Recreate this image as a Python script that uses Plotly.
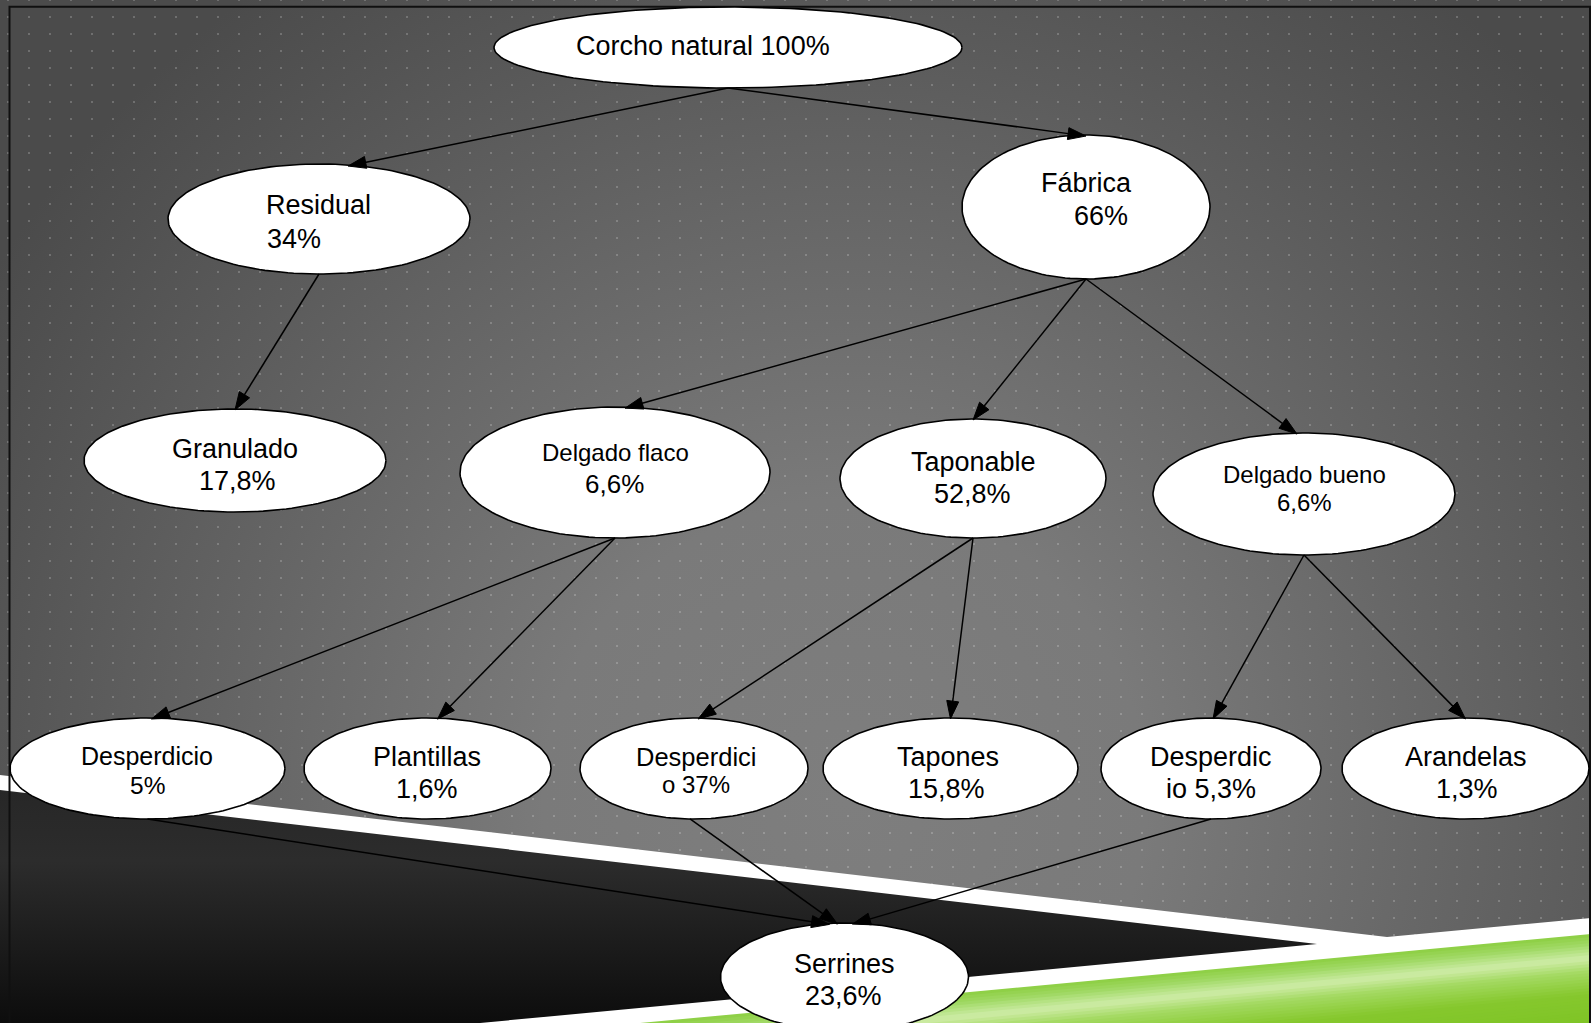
import numpy as np
import plotly.graph_objects as go

W, H = 1591, 1023

# diagram content
node_title = ["Corcho natural 100%", "Residual", "Fábrica", "Granulado", "Delgado flaco",
              "Taponable", "Delgado bueno", "Desperdicio", "Plantillas", "Desperdici",
              "Tapones", "Desperdic", "Arandelas", "Serrines"]
node_value = ["", "34%", "66%", "17,8%", "6,6%", "52,8%", "6,6%", "5%", "1,6%", "o 37%",
              "15,8%", "io 5,3%", "1,3%", "23,6%"]

edge_from = [0, 0, 1, 2, 2, 2, 4, 4, 5, 5, 6, 6, 7, 9, 11]
edge_to = [1, 2, 3, 4, 5, 6, 7, 8, 9, 10, 11, 12, 13, 13, 13]

# ellipse geometry (px, y measured from the top)
node_cx = [728, 319, 1086, 235, 615, 973, 1304, 147.5, 427.5, 694, 950.5, 1211, 1465.5, 844.5]
node_cy = [47.5, 219, 207, 460.5, 472.5, 478.5, 494, 768.5, 768.5, 768.5, 768.5, 768.5, 768.5, 977]
node_rx = [234, 151, 124, 151, 155, 133, 151, 137.5, 123.5, 114, 127.5, 110, 123.5, 124]
node_ry = [40.5, 55, 72, 51.5, 65.5, 59.5, 61, 50.5, 50.5, 50.5, 50.5, 50.5, 50.5, 54]

# label placement
title_x = [703, 318.5, 1086.5, 235, 615, 973, 1304, 147, 427, 696, 948, 1211, 1466, 844.5]
title_y = [45.5, 205, 183, 448.5, 452, 461.5, 474, 756, 757, 757, 757, 757, 757, 964]
value_x = [0, 265, 1101, 237.5, 614, 972, 1304.5, 147, 427, 696, 946, 1211, 1467, 843]
value_y = [0, 238.5, 216, 481, 483.5, 494, 502, 785, 788.5, 784, 788.5, 788.5, 788.5, 995.5]
title_size = [27, 27, 27, 27, 24, 27, 24, 25, 27, 25.5, 27, 27, 27, 27]
value_size = [27, 27, 27, 27, 26, 27, 24, 24.5, 27, 24, 27, 27, 27, 27]

# where connectors leave / hit the ellipses (offset from centre x)
edge_start_dx = [0, 0, 0, 0, 0, 0, 0, 0, 0, 0, 0, 0, 0, -4, 0]
edge_tip_dx = [29, 0, 0, 10, 0, -7, 4, 10, 4, 0, 2, 0, -15, -7, 8]

FONT = "Liberation Sans, Arial, sans-serif"


def ellipse_edge(i, dx, side):
    h = node_ry[i] * np.sqrt(max(0.0, 1 - (dx / node_rx[i]) ** 2))
    return node_cx[i] + dx, node_cy[i] + side * h


fig = go.Figure()

# slide background: grey panel with radial shading (bbox centred near 845, 800)
gx = [-160, 1850, 1850, 1591, 1387, 0, -150, -150, -160, -160]
gy = [-200, -200, 918, 918, 937, 775, 775, 1800, 1800, -200]
fig.add_trace(go.Scatter(
    x=gx, y=gy, mode="lines", fill="toself", line=dict(width=0),
    fillgradient=dict(type="radial", colorscale=[
        [0, "#7e7e7e"], [0.3, "#7a7a7a"], [0.55, "#696969"], [0.8, "#585858"],
        [0.92, "#505050"], [1, "#4b4b4b"]]),
    hoverinfo="skip"))

# dotted texture
dx_grid, dy_grid = np.meshgrid(np.arange(8, W, 21), np.arange(0, H, 17))
fig.add_trace(go.Scatter(
    x=dx_grid.ravel(), y=dy_grid.ravel(), mode="markers",
    marker=dict(symbol="square", size=2, color="rgba(255,255,255,0.2)", line=dict(width=0)),
    hoverinfo="skip"))

# black wedge, lighter along its top edge
fig.add_trace(go.Scatter(
    x=[-10, 1317, 300, -10, -10], y=[788.8, 944, 1040, 1040, 788.8],
    mode="lines", fill="toself", line=dict(width=0),
    fillgradient=dict(type="vertical", start=1030, stop=788.8,
                      colorscale=[[0, "#0b0b0b"], [0.7, "#2c2c2c"], [1, "#272727"]]),
    hoverinfo="skip"))

# green band, drawn as thin stripes parallel to its top edge
stops_off = [0, 10, 24, 38, 60, 115]
stops_col = [(140, 207, 66), (160, 217, 100), (207, 237, 168), (164, 218, 98), (134, 200, 46), (122, 194, 31)]
slope = (1023 - 934) / (1591 - 640)


def ytop(x):
    return 934 + (1591 - x) * slope


for a in range(0, 114, 3):
    c = [int(np.interp(a + 1.5, stops_off, [s[k] for s in stops_col])) for k in range(3)]
    b = a + 4
    fig.add_trace(go.Scatter(
        x=[500, 1600, 1600, 500, 500],
        y=[ytop(500) + a, ytop(1600) + a, ytop(1600) + b, ytop(500) + b, ytop(500) + a],
        mode="lines", fill="toself", line=dict(width=0),
        fillcolor=f"rgb({c[0]},{c[1]},{c[2]})", hoverinfo="skip"))

# frame
fig.add_trace(go.Scatter(
    x=[9.5, 9.5, 1590, 1590], y=[1040, 6.7, 6.7, 1040], mode="lines",
    line=dict(color="#101010", width=2), hoverinfo="skip"))

# ellipses
t = np.linspace(0, 2 * np.pi, 160)
for i in range(len(node_title)):
    fig.add_trace(go.Scatter(
        x=node_cx[i] + node_rx[i] * np.cos(t), y=node_cy[i] + node_ry[i] * np.sin(t),
        mode="lines", fill="toself", fillcolor="white",
        line=dict(color="black", width=1.6), hoverinfo="skip"))

# connectors with arrowheads
lx, ly, ax, ay = [], [], [], []
L, hw = 18, 6
for f, to, sdx, tdx in zip(edge_from, edge_to, edge_start_dx, edge_tip_dx):
    x0, y0 = ellipse_edge(f, sdx, 1)
    x1, y1 = ellipse_edge(to, tdx, -1)
    y1 += 1
    d = np.hypot(x1 - x0, y1 - y0)
    ux, uy = (x1 - x0) / d, (y1 - y0) / d
    bx, by = x1 - L * ux, y1 - L * uy
    lx += [x0, bx + 2 * ux, None]
    ly += [y0, by + 2 * uy, None]
    ax += [x1, bx - hw * uy, bx + hw * uy, x1, None]
    ay += [y1, by + hw * ux, by - hw * ux, y1, None]

fig.add_trace(go.Scatter(x=lx, y=ly, mode="lines", line=dict(color="black", width=1.5),
                         hoverinfo="skip"))
fig.add_trace(go.Scatter(x=ax, y=ay, mode="lines", fill="toself", fillcolor="black",
                         line=dict(color="black", width=1), hoverinfo="skip"))

# labels
for i in range(len(node_title)):
    fig.add_annotation(x=title_x[i], y=title_y[i], text=node_title[i], showarrow=False,
                       xanchor="center", yanchor="middle",
                       font=dict(family=FONT, size=title_size[i], color="black"))
    if node_value[i]:
        fig.add_annotation(x=value_x[i], y=value_y[i], text=node_value[i], showarrow=False,
                           xanchor="left" if i == 1 else "center", yanchor="middle",
                           font=dict(family=FONT, size=value_size[i], color="black"))

fig.update_layout(
    width=W, height=H,
    margin=dict(l=0, r=0, t=0, b=0),
    paper_bgcolor="white", plot_bgcolor="white",
    showlegend=False,
    xaxis=dict(range=[0, W], visible=False, fixedrange=True),
    yaxis=dict(range=[H, 0], visible=False, fixedrange=True),
)

fig.write_html("out.html", config={"displayModeBar": False},
               post_script="document.body.style.margin='0';document.body.style.overflow='hidden';")
